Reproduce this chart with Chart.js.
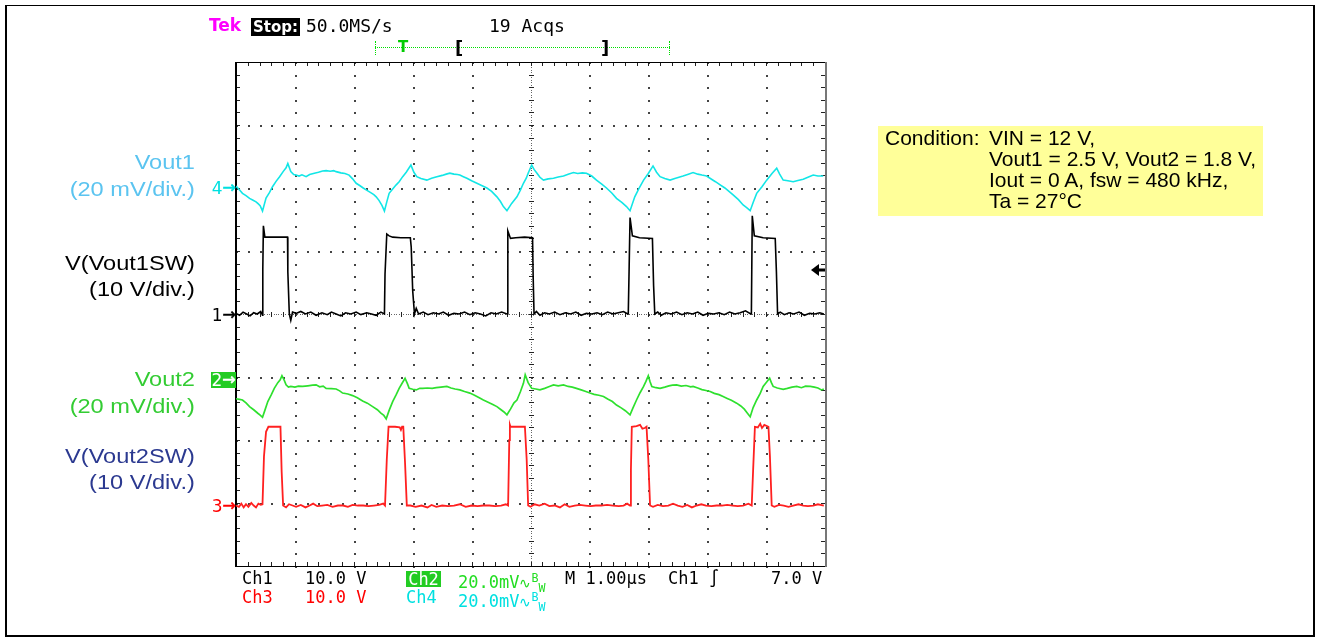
<!DOCTYPE html>
<html>
<head>
<meta charset="utf-8">
<script src="https://cdn.jsdelivr.net/npm/chart.js@4.4.0/dist/chart.umd.min.js"></script>
<style>
  html, body { margin: 0; padding: 0; background: #fff; }
  #wrap { position: relative; width: 1320px; height: 641px; overflow: hidden; }
  #chart { position: absolute; left: 0; top: 0; }
  .frame { position: absolute; left: 5px; top: 5px; width: 1306px; height: 629px; border: 2px solid #000; border-top-width: 1px; }
  .t { position: absolute; white-space: nowrap; }
  .lab { font-family: "Liberation Sans", Arial, sans-serif; font-size: 20.5px; line-height: 26.5px;
         text-align: right; right: 1125px; transform: scaleX(1.15); transform-origin: right center; }
  .scope { font-family: "DejaVu Sans Mono", monospace; font-size: 17px; line-height: 17px; }
  .mk { font-family: "DejaVu Sans", sans-serif; font-size: 17px; line-height: 16px; text-align: right; right: 1084px; }
  .mk span { font-size: 16px; -webkit-text-stroke: 0.5px currentColor; position: relative; top: -1px; }
  .cond { position: absolute; left: 878px; top: 126px; width: 385px; height: 90px; background: #ffff99; }
  .ctext { font-family: "Liberation Sans", Arial, sans-serif; font-size: 21px; line-height: 21px; color: #000; }
  .bw { font-size: 14px; }
</style>
</head>
<body>
<div id="wrap">
  <canvas id="chart" width="1320" height="641"></canvas>
  <div class="frame"></div>

  <!-- scope header -->
  <div class="t" style="left:209px;top:16px;font-family:'DejaVu Sans',sans-serif;font-weight:bold;font-size:17px;line-height:18px;color:#ff00ff;">Tek</div>
  <div class="t" style="left:251px;top:18px;width:49px;height:18px;background:#000;color:#fff;font-family:'DejaVu Sans',sans-serif;font-weight:bold;font-size:15px;line-height:18px;text-align:center;">Stop:</div>
  <div class="t scope" style="left:306px;top:17px;font-size:18px;line-height:18px;">50.0MS/s</div>
  <div class="t scope" style="left:489px;top:17px;font-size:18px;line-height:18px;">19 Acqs</div>

  <!-- trigger position bar -->
  <div class="t" style="left:375px;top:47px;width:295px;border-top:1px dotted #00dd00;"></div>
  <div class="t" style="left:375px;top:41px;height:14px;border-left:1px dotted #00dd00;"></div>
  <div class="t" style="left:669px;top:41px;height:14px;border-left:1px dotted #00dd00;"></div>
  <div class="t" style="left:398px;top:39px;font-family:'DejaVu Sans',sans-serif;font-weight:bold;font-size:15px;line-height:16px;color:#00cc00;">T</div>
  <div class="t" style="left:455px;top:38px;font-family:'DejaVu Sans',sans-serif;font-weight:bold;font-size:18px;line-height:20px;">[</div>
  <div class="t" style="left:601px;top:38px;font-family:'DejaVu Sans',sans-serif;font-weight:bold;font-size:18px;line-height:20px;">]</div>

  <!-- channel labels -->
  <div class="t lab" style="top:149px;color:#5bc4f0;">Vout1<br>(20 mV/div.)</div>
  <div class="t lab" style="top:249.5px;color:#000;">V(Vout1SW)<br>(10 V/div.)</div>
  <div class="t lab" style="top:366px;color:#33cc33;">Vout2<br>(20 mV/div.)</div>
  <div class="t lab" style="top:442.5px;color:#2b3990;">V(Vout2SW)<br>(10 V/div.)</div>

  <!-- ground markers -->
  <div class="t mk" style="top:180px;color:#00e0e0;">4<span>→</span></div>
  <div class="t mk" style="top:307px;color:#000;">1<span>→</span></div>
  <div class="t mk" style="top:372px;width:25px;height:16px;background:#22cc22;color:#fff;text-align:center;">2<span>→</span></div>
  <div class="t mk" style="top:498px;color:#ff0000;">3<span>→</span></div>

  <!-- readouts -->
  <div class="t scope" style="left:242px;top:570px;">Ch1</div>
  <div class="t scope" style="left:305px;top:570px;">10.0 V</div>
  <div class="t scope" style="left:406px;top:571px;width:35px;height:16px;line-height:16px;background:#22cc22;color:#fff;text-align:center;">Ch2</div>
  <div class="t scope" style="left:458px;top:570px;color:#22dd22;">20.0mV<span class="bw">∿<sup>B</sup><sub>W</sub></span></div>
  <div class="t scope" style="left:565px;top:570px;">M 1.00µs</div>
  <div class="t scope" style="left:668px;top:570px;">Ch1 ∫</div>
  <div class="t scope" style="left:771px;top:570px;">7.0 V</div>
  <div class="t scope" style="left:242px;top:589px;color:#ff0000;">Ch3</div>
  <div class="t scope" style="left:305px;top:589px;color:#ff0000;">10.0 V</div>
  <div class="t scope" style="left:406px;top:589px;color:#00e0e0;">Ch4</div>
  <div class="t scope" style="left:458px;top:589px;color:#00e0e0;">20.0mV<span class="bw">∿<sup>B</sup><sub>W</sub></span></div>

  <!-- measurement condition -->
  <div class="cond"></div>
  <div class="t ctext" style="left:885px;top:127px;">Condition:</div>
  <div class="t ctext" style="left:989px;top:127px;">VIN = 12 V,<br>Vout1 = 2.5 V, Vout2 = 1.8 V,<br>Iout = 0 A, fsw = 480 kHz,<br>Ta = 27°C</div>
</div>

<script>
// screen: 10 div x 1.00 us, 8 div vertical (center = 0)
const X_DIVS = 10;
const Y_DIVS = 8;
const US_PER_DIV = 1.0;

// channel settings: ground offset (div) and scale per div
const CH1_OFFSET = 0, CH1_V_PER_DIV = 10;
const CH2_OFFSET = -1.03, CH2_MV_PER_DIV = 20;
const CH3_OFFSET = -3.04, CH3_V_PER_DIV = 10;
const CH4_OFFSET = 2, CH4_MV_PER_DIV = 20;
const TRIGGER_LEVEL_V = 7.0;

// Ch1: V(Vout1SW) [time us, volts]
const ch1Vout1SW = [
  [0.00, 0.1], [0.06, -0.2], [0.12, 0.3], [0.18, 0.0], [0.24, -0.3], [0.30, 0.2], [0.36, 0.0], [0.42, 0.4], [0.45, -0.2],
  [0.455, 7.1], [0.465, 14.0], [0.49, 12.2], [0.60, 12.2], [0.75, 12.2], [0.875, 12.2], [0.88, 6.7], [0.905, 0.0],
  [0.93, -1.0], [0.96, 0.3], [1.02, 0.1], [1.10, 0.4], [1.18, 0.0], [1.27, 0.3], [1.36, -0.2], [1.46, 0.2], [1.55, -0.1],
  [1.62, 0.3], [1.70, 0.0], [1.78, -0.3], [1.86, 0.2], [1.95, 0.0], [2.04, 0.3], [2.12, -0.1], [2.22, 0.2], [2.30, 0.0],
  [2.38, -0.2], [2.46, 0.3], [2.52, 0.0],
  [2.53, 6.3], [2.56, 12.7], [2.60, 12.4], [2.66, 12.2], [2.80, 12.1], [2.96, 12.1], [2.975, 10.6], [3.00, 3.7], [3.03, 0.0],
  [3.06, 0.9], [3.10, 0.0], [3.18, 0.3], [3.26, -0.1], [3.35, 0.2], [3.44, 0.0], [3.52, 0.3], [3.61, -0.2], [3.70, 0.1],
  [3.79, 0.0], [3.88, 0.3], [3.97, -0.1], [4.06, 0.2], [4.15, 0.0], [4.24, -0.3], [4.33, 0.2], [4.42, 0.0], [4.51, 0.3], [4.60, 0.0],
  [4.605, 0.0], [4.615, 13.2], [4.66, 12.0], [4.75, 12.1], [4.90, 12.2], [5.035, 12.1], [5.045, 6.0], [5.06, 0.0],
  [5.10, 0.4], [5.16, -0.2], [5.24, 0.2], [5.32, 0.0], [5.41, 0.3], [5.50, -0.1], [5.59, 0.2], [5.68, 0.0], [5.77, 0.3],
  [5.86, -0.2], [5.95, 0.1], [6.04, 0.0], [6.13, 0.2], [6.22, -0.1], [6.31, 0.3], [6.40, 0.0], [6.49, 0.2], [6.58, 0.4], [6.65, 0.0],
  [6.66, 0.0], [6.675, 7.5], [6.69, 15.3], [6.73, 12.4], [6.85, 12.1], [7.07, 12.0], [7.09, 4.5], [7.11, 0.0],
  [7.16, 0.3], [7.22, -0.2], [7.30, 0.2], [7.39, 0.0], [7.48, 0.3], [7.57, -0.1], [7.66, 0.2], [7.75, 0.0], [7.84, 0.3],
  [7.93, -0.2], [8.02, 0.1], [8.11, 0.0], [8.20, 0.2], [8.29, -0.1], [8.38, 0.3], [8.47, 0.0], [8.56, 0.2], [8.65, 0.5], [8.74, 0.0],
  [8.75, 0.0], [8.765, 15.6], [8.80, 12.4], [8.95, 12.1], [9.155, 12.0], [9.175, 6.7], [9.195, 0.0],
  [9.24, 0.3], [9.31, -0.1], [9.39, 0.2], [9.47, 0.0], [9.56, 0.3], [9.65, -0.2], [9.74, 0.1], [9.83, 0.0], [9.91, 0.2], [9.98, 0.0]
];

// Ch2: Vout2 ripple [time us, mV]
const ch2Vout2 = [
  [0.00, -6.3], [0.06, -6.5], [0.11, -6.7], [0.17, -7.6], [0.23, -8.8], [0.30, -9.8], [0.37, -10.9], [0.41, -11.5], [0.45, -12.2],
  [0.49, -10.0], [0.54, -7.2], [0.60, -5.0], [0.65, -3.0], [0.71, -1.2], [0.75, -0.3], [0.78, 1.0],
  [0.82, -0.5], [0.85, -1.9], [0.89, -2.6], [0.93, -2.4], [1.00, -2.6], [1.06, -2.3], [1.13, -2.4], [1.22, -2.2], [1.30, -2.0],
  [1.36, -1.9], [1.42, -2.5], [1.48, -2.3], [1.53, -3.0], [1.62, -3.1], [1.70, -3.2], [1.76, -3.8], [1.81, -4.5], [1.90, -4.8],
  [1.98, -5.3], [2.06, -6.0], [2.15, -7.0], [2.23, -7.7], [2.32, -8.8], [2.40, -9.8], [2.46, -10.9], [2.51, -11.6], [2.55, -12.7],
  [2.60, -10.0], [2.66, -7.2], [2.72, -5.0], [2.77, -3.0], [2.82, -1.4], [2.87, 0.2],
  [2.91, -1.5], [2.94, -3.0], [3.00, -3.3], [3.06, -3.5], [3.12, -3.0], [3.17, -3.0], [3.25, -2.9], [3.33, -3.0], [3.40, -2.8],
  [3.48, -2.6], [3.58, -2.4], [3.65, -2.9], [3.72, -3.2], [3.80, -3.5], [3.88, -4.0], [3.97, -4.5], [4.05, -5.2], [4.13, -6.0],
  [4.20, -6.7], [4.28, -7.4], [4.36, -8.1], [4.43, -8.8], [4.50, -9.8], [4.55, -10.5], [4.60, -11.4],
  [4.66, -9.6], [4.72, -7.6], [4.77, -6.7], [4.83, -4.0], [4.88, -1.4], [4.91, 1.3],
  [4.96, -1.2], [5.02, -3.0], [5.09, -3.2], [5.16, -3.5], [5.24, -3.0], [5.31, -2.5], [5.39, -1.9], [5.47, -2.2], [5.56, -1.9],
  [5.64, -2.4], [5.71, -2.6], [5.78, -3.0], [5.86, -3.5], [5.94, -4.0], [6.01, -4.5], [6.08, -4.9], [6.16, -5.2], [6.24, -5.6],
  [6.31, -6.4], [6.39, -7.2], [6.46, -8.3], [6.54, -9.2], [6.61, -10.1], [6.69, -11.4],
  [6.74, -9.2], [6.80, -6.7], [6.86, -4.4], [6.92, -2.4], [6.96, -0.8], [7.00, 1.0],
  [7.03, -0.9], [7.06, -2.4], [7.13, -2.8], [7.20, -3.0], [7.28, -2.6], [7.35, -2.2], [7.41, -2.0], [7.48, -1.9], [7.56, -2.3],
  [7.64, -2.1], [7.72, -2.5], [7.76, -2.4], [7.84, -2.9], [7.91, -3.4], [7.98, -3.7], [8.05, -4.0], [8.12, -4.6], [8.20, -5.0],
  [8.27, -5.6], [8.34, -6.2], [8.41, -6.8], [8.50, -7.7], [8.57, -8.6], [8.63, -9.6], [8.68, -10.8], [8.73, -12.0],
  [8.78, -9.1], [8.84, -6.7], [8.90, -4.6], [8.95, -2.4], [9.01, -1.0], [9.06, 0.2],
  [9.09, -1.2], [9.12, -2.4], [9.19, -2.9], [9.29, -3.3], [9.36, -3.0], [9.44, -2.6], [9.52, -2.4], [9.60, -2.8], [9.67, -2.3],
  [9.75, -2.4], [9.82, -2.6], [9.88, -2.9], [9.94, -3.5], [9.98, -3.2]
];

// Ch3: V(Vout2SW) [time us, volts]
const ch3Vout2SW = [
  [0.00, 0.0], [0.05, -0.2], [0.09, 0.3], [0.13, -0.3], [0.17, 0.2], [0.21, -0.2], [0.26, 0.4], [0.30, 0.0], [0.34, -0.3],
  [0.38, 0.3], [0.42, 0.1], [0.45, 0.2],
  [0.475, 7.8], [0.51, 11.7], [0.55, 12.5], [0.65, 12.5], [0.755, 12.5], [0.775, 5.4], [0.80, 0.0],
  [0.85, -0.3], [0.90, 0.2], [0.96, 0.0], [1.02, -0.2], [1.10, 0.1], [1.18, -0.3], [1.25, 0.0], [1.31, 0.3], [1.38, -0.1],
  [1.46, 0.0], [1.55, 0.1], [1.64, -0.2], [1.73, 0.0], [1.82, 0.0], [1.90, -0.2], [1.98, 0.1], [2.07, 0.0], [2.16, 0.0],
  [2.25, -0.1], [2.34, 0.0], [2.43, 0.1], [2.50, 0.3], [2.53, 0.0],
  [2.56, 7.3], [2.59, 12.5], [2.70, 12.5], [2.78, 12.4], [2.80, 12.0], [2.82, 12.5], [2.84, 12.5], [2.87, 6.8], [2.90, 0.0],
  [2.96, 0.0], [3.05, -0.2], [3.15, 0.0], [3.25, -0.3], [3.32, 0.1], [3.40, -0.2], [3.50, 0.0], [3.60, -0.1], [3.70, 0.0],
  [3.80, 0.2], [3.90, -0.2], [4.00, 0.0], [4.10, -0.1], [4.20, 0.0], [4.30, 0.0], [4.40, -0.1], [4.50, 0.0], [4.58, 0.2], [4.62, 0.0],
  [4.64, 10.4], [4.65, 12.8], [4.66, 12.5], [4.75, 12.5], [4.82, 12.5], [4.905, 12.5], [4.935, 7.3], [4.96, 0.0],
  [5.00, -0.2], [5.07, 0.2], [5.15, 0.0], [5.24, 0.3], [5.32, -0.1], [5.41, 0.0], [5.50, -0.3], [5.58, 0.2], [5.66, -0.2],
  [5.75, 0.0], [5.84, 0.1], [5.93, 0.0], [6.02, -0.1], [6.11, 0.0], [6.20, 0.0], [6.30, 0.1], [6.40, 0.0], [6.50, -0.1],
  [6.58, 0.0], [6.64, 0.3], [6.69, 0.0],
  [6.705, 5.7], [6.72, 12.5], [6.80, 12.6], [6.86, 12.8], [6.90, 12.2], [6.94, 12.3], [6.97, 12.5], [7.00, 7.3], [7.03, 0.0],
  [7.08, -0.2], [7.16, 0.1], [7.25, -0.1], [7.34, 0.0], [7.42, 0.3], [7.50, 0.0], [7.58, -0.2], [7.66, 0.1], [7.74, -0.3],
  [7.82, 0.0], [7.90, 0.2], [7.98, 0.0], [8.07, -0.1], [8.16, 0.0], [8.25, 0.0], [8.34, 0.1], [8.43, 0.0], [8.52, -0.1],
  [8.61, 0.0], [8.70, 0.3], [8.756, 0.0],
  [8.78, 5.7], [8.81, 12.5], [8.86, 12.4], [8.90, 13.0], [8.93, 12.3], [8.97, 12.8], [9.04, 12.5], [9.065, 7.8], [9.095, 0.0],
  [9.14, -0.2], [9.22, 0.1], [9.30, 0.0], [9.38, -0.2], [9.46, 0.0], [9.55, 0.2], [9.63, 0.0], [9.71, -0.1], [9.80, 0.0],
  [9.88, 0.2], [9.98, 0.0]
];

// Ch4: Vout1 ripple [time us, mV]
const ch4Vout1 = [
  [0.00, 0.6], [0.05, -0.4], [0.11, -1.7], [0.17, -2.4], [0.23, -3.3], [0.29, -3.9], [0.34, -4.4], [0.37, -4.9], [0.41, -5.6], [0.45, -7.3],
  [0.51, -3.2], [0.57, -1.4], [0.62, 0.4], [0.68, 2.1], [0.74, 3.6], [0.80, 5.2], [0.85, 6.4], [0.88, 7.8],
  [0.93, 5.2], [0.98, 4.3], [1.02, 4.1], [1.07, 3.8], [1.12, 4.2], [1.19, 3.6], [1.25, 4.3], [1.33, 4.7], [1.40, 5.0],
  [1.47, 5.4], [1.53, 5.5], [1.60, 5.3], [1.66, 5.5], [1.70, 5.2], [1.78, 4.8], [1.85, 4.6], [1.92, 4.1],
  [1.98, 2.9], [2.04, 1.5], [2.10, 0.8], [2.16, 0.0], [2.21, -0.6], [2.28, -1.4], [2.34, -2.1], [2.38, -2.8], [2.43, -4.0],
  [2.48, -5.6], [2.52, -7.3],
  [2.56, -4.4], [2.60, -1.7], [2.66, -0.3], [2.72, 1.0], [2.77, 2.0], [2.83, 3.6], [2.89, 5.0], [2.97, 7.3],
  [3.02, 5.0], [3.07, 3.6], [3.14, 3.0], [3.24, 2.5], [3.32, 3.1], [3.41, 3.6], [3.50, 4.0], [3.57, 4.4], [3.63, 4.7],
  [3.70, 4.4], [3.76, 4.3], [3.80, 4.1], [3.86, 3.6], [3.92, 3.1],
  [4.00, 2.3], [4.09, 1.5], [4.17, 0.8], [4.26, 0.0], [4.34, -1.1], [4.43, -2.8], [4.49, -4.3], [4.54, -5.9], [4.60, -7.2],
  [4.68, -4.9], [4.77, -2.8], [4.83, -0.6], [4.88, 1.5], [4.93, 3.2], [4.96, 4.7], [5.02, 7.3],
  [5.06, 5.9], [5.11, 4.7], [5.16, 3.4], [5.22, 2.5], [5.30, 2.9], [5.39, 3.1], [5.47, 3.5], [5.56, 3.8], [5.64, 4.4],
  [5.73, 4.9], [5.80, 4.6], [5.88, 4.8], [5.95, 4.7],
  [6.04, 3.8], [6.12, 2.5], [6.21, 1.2], [6.29, 0.0], [6.38, -1.6], [6.46, -3.3], [6.55, -4.6], [6.63, -5.9], [6.69, -7.2],
  [6.77, -2.8], [6.84, -0.2], [6.92, 2.5], [7.00, 4.6], [7.08, 7.0],
  [7.14, 5.0], [7.20, 3.6], [7.28, 3.0], [7.37, 2.5], [7.45, 3.0], [7.52, 3.4], [7.59, 3.8], [7.68, 4.4], [7.76, 4.9],
  [7.84, 4.4], [7.91, 4.1], [7.99, 3.8],
  [8.08, 2.7], [8.14, 2.0], [8.22, 1.0], [8.30, 0.0], [8.37, -1.1], [8.44, -2.2], [8.53, -3.7], [8.61, -5.4], [8.67, -6.2], [8.73, -7.2],
  [8.78, -4.6], [8.84, -1.7], [8.93, 0.4], [9.01, 2.5], [9.10, 4.6], [9.18, 6.3],
  [9.23, 4.4], [9.29, 2.5], [9.37, 2.3], [9.46, 2.0], [9.54, 2.4], [9.63, 2.8], [9.72, 3.5], [9.80, 4.1], [9.88, 3.8], [9.97, 3.8]
];

// convert a channel reading to screen divisions
const toDiv = (pts, offset, perDiv) => pts.map(([t, v]) => ({ x: t, y: offset + v / perDiv }));

// Tek style graticule: dotted lines, tick marks on frame and centre lines
const graticule = {
  id: 'graticule',
  beforeDatasetsDraw(chart) {
    const { ctx, chartArea: a, scales: { x, y } } = chart;
    const px = v => Math.round(x.getPixelForValue(v));
    const py = v => Math.round(y.getPixelForValue(v));
    const yMin = -Y_DIVS / 2;
    ctx.save();

    // dotted division lines
    ctx.fillStyle = '#444';
    for (let i = 1; i < X_DIVS; i++) {
      if (i === X_DIVS / 2) continue;
      for (let k = 0; k <= Y_DIVS * 5; k++) ctx.fillRect(px(i * US_PER_DIV), py(yMin + k / 5), 2, 2);
    }
    for (let j = 1; j < Y_DIVS; j++) {
      if (j === Y_DIVS / 2) continue;
      for (let k = 0; k <= X_DIVS * 5; k++) ctx.fillRect(px(k / 5 * US_PER_DIV), py(yMin + j), 2, 2);
    }

    // centre cross with fine dots and ticks
    const cx = px(X_DIVS / 2 * US_PER_DIV), cy = py(0);
    ctx.fillStyle = '#666';
    for (let k = 0; k <= Y_DIVS * 25; k++) ctx.fillRect(cx, py(yMin + k / 25), 1, 1);
    for (let k = 0; k <= X_DIVS * 25; k++) ctx.fillRect(px(k / 25 * US_PER_DIV), cy, 1, 1);
    ctx.fillStyle = '#222';
    for (let k = 0; k <= Y_DIVS * 5; k++) ctx.fillRect(cx - 2, py(yMin + k / 5), 5, 1);
    for (let k = 0; k <= X_DIVS * 5; k++) ctx.fillRect(px(k / 5 * US_PER_DIV), cy - 2, 1, 5);

    // frame ticks
    for (let k = 1; k < X_DIVS * 5; k++) {
      const xx = px(k / 5 * US_PER_DIV);
      ctx.fillRect(xx, a.top, 1, 4);
      ctx.fillRect(xx, a.bottom - 4, 1, 4);
    }
    for (let k = 1; k < Y_DIVS * 5; k++) {
      const yy = py(yMin + k / 5);
      ctx.fillRect(a.left, yy, 4, 1);
      ctx.fillRect(a.right - 4, yy, 4, 1);
    }

    // frame
    ctx.fillStyle = '#000';
    ctx.fillRect(a.left - 1, a.top, 2, a.bottom - a.top + 1);
    ctx.fillRect(a.left, a.top, a.right - a.left, 1);
    ctx.fillRect(a.left, a.bottom, a.right - a.left, 1);
    ctx.fillStyle = '#777';
    ctx.fillRect(a.right, a.top, 2, a.bottom - a.top + 1);
    ctx.restore();
  },
  afterDatasetsDraw(chart) {
    // trigger level arrow on the right edge
    const { ctx, chartArea: a, scales: { y } } = chart;
    const ty = Math.round(y.getPixelForValue(CH1_OFFSET + TRIGGER_LEVEL_V / CH1_V_PER_DIV));
    ctx.save();
    ctx.fillStyle = '#000';
    ctx.beginPath();
    ctx.moveTo(a.right - 14, ty);
    ctx.lineTo(a.right - 6, ty - 6);
    ctx.lineTo(a.right - 6, ty + 6);
    ctx.closePath();
    ctx.fill();
    ctx.fillRect(a.right - 7, ty - 1.5, 7, 3);
    ctx.restore();
  }
};

const trace = (data, color, width) => ({
  data, borderColor: color, borderWidth: width, showLine: true,
  pointRadius: 0, tension: 0, fill: false
});

new Chart(document.getElementById('chart'), {
  type: 'scatter',
  data: {
    datasets: [
      trace(toDiv(ch1Vout1SW, CH1_OFFSET, CH1_V_PER_DIV), '#000000', 1.6),
      trace(toDiv(ch4Vout1, CH4_OFFSET, CH4_MV_PER_DIV), '#12e6e6', 1.6),
      trace(toDiv(ch2Vout2, CH2_OFFSET, CH2_MV_PER_DIV), '#2ee02e', 1.7),
      trace(toDiv(ch3Vout2SW, CH3_OFFSET, CH3_V_PER_DIV), '#ff2020', 1.8)
    ]
  },
  options: {
    responsive: false,
    animation: false,
    events: [],
    layout: { padding: { left: 236, top: 62, right: 495, bottom: 75 } },
    scales: {
      x: { type: 'linear', min: 0, max: X_DIVS * US_PER_DIV, display: false },
      y: { type: 'linear', min: -Y_DIVS / 2, max: Y_DIVS / 2, display: false }
    },
    plugins: { legend: { display: false }, tooltip: { enabled: false } }
  },
  plugins: [graticule]
});
</script>
</body>
</html>
